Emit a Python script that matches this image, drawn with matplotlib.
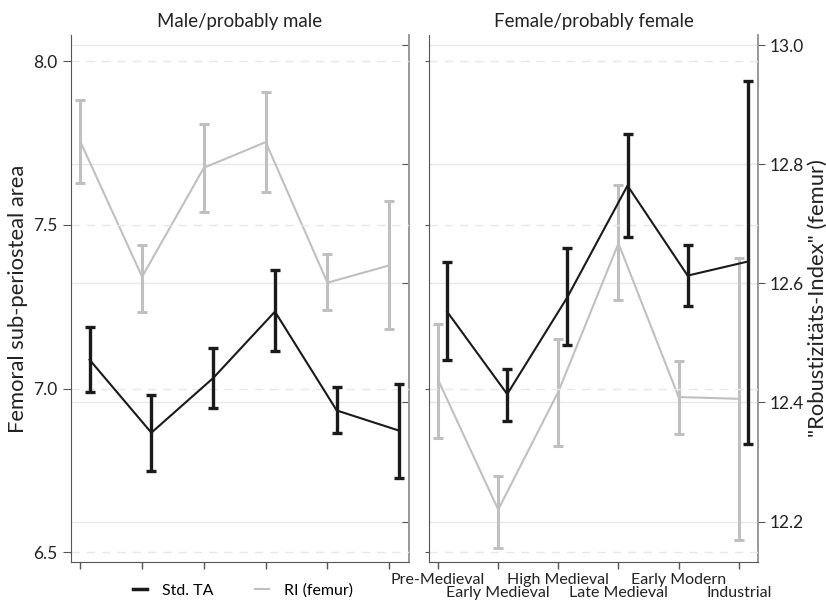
import numpy as np
import matplotlib
matplotlib.use("Agg")
import matplotlib.pyplot as plt

plt.rcParams['font.family'] = ['Lato', 'DejaVu Sans']

periods = ["Pre-Medieval", "Early Medieval", "High Medieval",
           "Late Medieval", "Early Modern", "Industrial"]

# Std. TA (left axis)
male_ta = [7.088, 6.865, 7.032, 7.235, 6.933, 6.872]
male_ta_lo = [6.989, 6.747, 6.940, 7.116, 6.863, 6.726]
male_ta_hi = [7.188, 6.980, 7.124, 7.361, 7.004, 7.013]
female_ta = [7.235, 6.983, 7.279, 7.620, 7.345, 7.388]
female_ta_lo = [7.088, 6.900, 7.133, 7.463, 7.251, 6.831]
female_ta_hi = [7.388, 7.060, 7.429, 7.778, 7.439, 7.941]

# RI femur (right axis)
male_ri = [12.838, 12.611, 12.794, 12.837, 12.601, 12.630]
male_ri_lo = [12.768, 12.552, 12.720, 12.753, 12.555, 12.523]
male_ri_hi = [12.908, 12.664, 12.867, 12.921, 12.649, 12.738]
female_ri = [12.438, 12.220, 12.418, 12.667, 12.409, 12.406]
female_ri_lo = [12.341, 12.156, 12.327, 12.572, 12.347, 12.169]
female_ri_hi = [12.532, 12.277, 12.507, 12.765, 12.470, 12.642]

ta_ticks = [6.5, 7.0, 7.5, 8.0]
ri_ticks = [12.2, 12.4, 12.6, 12.8, 13.0]

BLACK = "#1a1a1a"
GREY = "#c0c0c0"
DARK_SPINE = "#555555"
LIGHT_SPINE = "#999999"
GRID = "#e8e8e8"
TXT = "#222222"

fig = plt.figure(figsize=(8.26, 6.0), dpi=100)
ax_l = fig.add_axes([0.0860, 0.0633, 0.4092, 0.8783])
ax_r = fig.add_axes([0.5194, 0.0633, 0.3983, 0.8783])

x = np.arange(1, len(periods) + 1)
dodge = 0.15


def panel(ax, ta, ta_lo, ta_hi, ri, ri_lo, ri_hi, title, left_labels, right_labels):
    ax2 = ax.twinx()
    ax.set_zorder(ax2.get_zorder() + 1)
    ax.patch.set_visible(False)

    ta = np.array(ta)
    ri = np.array(ri)
    ta_err = [ta - np.array(ta_lo), np.array(ta_hi) - ta]
    ri_err = [ri - np.array(ri_lo), np.array(ri_hi) - ri]

    ax2.errorbar(x, ri, yerr=ri_err, color=GREY, lw=1.5, elinewidth=2.2,
                 capsize=3.5, capthick=2.2)
    ax.errorbar(x + dodge, ta, yerr=ta_err, color=BLACK, lw=1.5, elinewidth=2.4,
                capsize=3.5, capthick=2.4)

    ax.set_xlim(0.85, 6.32)
    ax.set_ylim(6.47, 8.08)
    ax2.set_ylim(12.132, 13.0168)

    ax.set_yticks(ta_ticks)
    ax2.set_yticks(ri_ticks)
    # two rows of period labels: odd ones on major ticks, even ones on minor ticks
    ax.set_xticks(x[::2])
    ax.set_xticks(x[1::2], minor=True)

    ax.yaxis.grid(True, color=GRID, lw=1.0, linestyle=(0, (6, 5)))
    ax2.yaxis.grid(True, color=GRID, lw=1.0, linestyle='-')
    ax.set_axisbelow(True)
    ax2.set_axisbelow(True)

    for s in ['top', 'right']:
        ax.spines[s].set_visible(False)
    for s in ['top', 'left', 'bottom']:
        ax2.spines[s].set_visible(False)
    ax.spines['left'].set_color(DARK_SPINE)
    ax.spines['bottom'].set_color(DARK_SPINE)
    ax2.spines['right'].set_color(LIGHT_SPINE)
    ax2.spines['right'].set_linewidth(1.4)

    ax.tick_params(axis='x', which='major', colors=DARK_SPINE, length=5, width=1,
                   labelsize=11.5, labelcolor=TXT, pad=3)
    ax.tick_params(axis='x', which='minor', colors=DARK_SPINE, length=5, width=1,
                   labelsize=11.5, labelcolor=TXT, pad=12.3)
    if left_labels:
        ax.tick_params(axis='y', colors=DARK_SPINE, length=6, labelsize=12.5,
                       labelcolor=TXT)
    else:
        ax.tick_params(axis='y', colors=DARK_SPINE, length=3, labelleft=False)
    if right_labels:
        ax2.tick_params(axis='y', colors=DARK_SPINE, length=5, labelsize=12.5,
                        labelcolor=TXT, direction='out', pad=3)
    else:
        ax2.tick_params(axis='y', colors=DARK_SPINE, length=5, labelright=False,
                        direction='in')

    ax.set_title(title, fontsize=13.4, color=TXT, pad=5.5)
    return ax2


ax2_l = panel(ax_l, male_ta, male_ta_lo, male_ta_hi, male_ri, male_ri_lo, male_ri_hi,
              "Male/probably male", True, False)
ax2_r = panel(ax_r, female_ta, female_ta_lo, female_ta_hi, female_ri, female_ri_lo,
              female_ri_hi, "Female/probably female", False, True)

ax_l.set_xticklabels([])
ax_l.set_xticklabels([], minor=True)
ax_r.set_xticklabels(periods[::2])
ax_r.set_xticklabels(periods[1::2], minor=True)

ax_l.set_ylabel("Femoral sub-periosteal area", fontsize=15.8, color=TXT, labelpad=4)
ax2_r.set_ylabel('"Robustizitäts-Index" (femur)', fontsize=15.8, color=TXT, labelpad=3)

handles = [plt.Line2D([], [], color=BLACK, lw=2.5),
           plt.Line2D([], [], color=GREY, lw=1.5)]
fig.legend(handles, ["Std. TA", "RI (femur)"], loc='center', bbox_to_anchor=(0.294, 0.016),
           ncol=2, frameon=False, fontsize=11.5, handlelength=0.9, columnspacing=2.6,
           handletextpad=0.9)

fig.savefig("out.png", dpi=100)
